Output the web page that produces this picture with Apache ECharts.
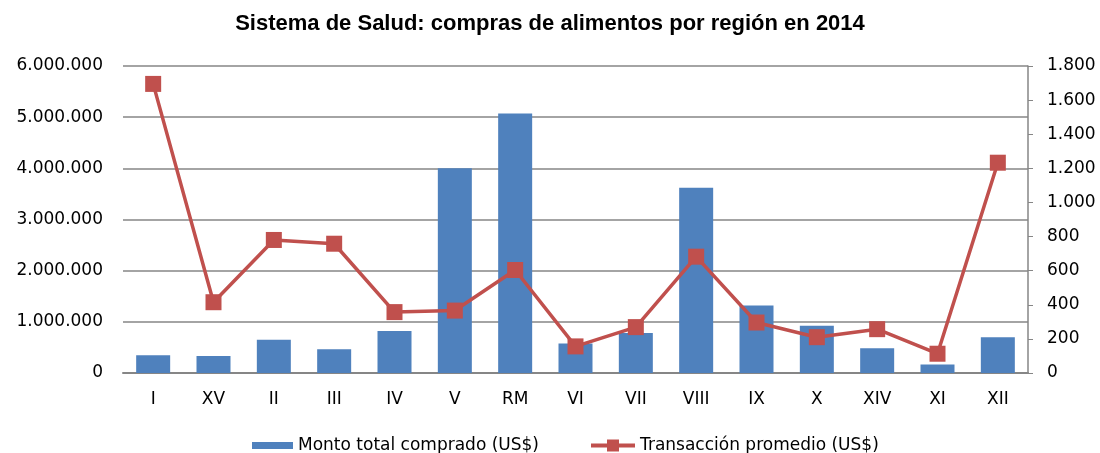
<!DOCTYPE html>
<html>
<head>
<meta charset="utf-8">
<script src="https://cdn.jsdelivr.net/npm/echarts@6/dist/echarts.min.js"></script>
<style>
  html, body { margin: 0; padding: 0; background: #fff; }
  #chart { width: 1100px; height: 453px; }
</style>
</head>
<body>
<div id="chart"></div>
<script>
const REGIONS = ["I", "XV", "II", "III", "IV", "V", "RM", "VI", "VII", "VIII", "IX", "X", "XIV", "XI", "XII"];
const MONTO_TOTAL = [345000, 330000, 652000, 463000, 820000, 4000000, 5070000, 575000, 780000, 3620000, 1320000, 925000, 483000, 164000, 700000];
const TRANSACCION_PROMEDIO = [1695, 415, 780, 758, 357, 366, 604, 156, 269, 682, 296, 210, 257, 113, 1233];

const BLUE = "#4F81BD";
const RED = "#C0504D";
const FONT = "DejaVu Sans";

const fmtDots = (v) => String(v).replace(/\B(?=(\d{3})+(?!\d))/g, ".");

const chart = echarts.init(document.getElementById("chart"));

const legendText = { fontFamily: FONT, fontSize: 17, color: "#000" };

chart.setOption({
  animation: false,
  textStyle: { fontFamily: FONT },
  title: {
    text: "Sistema de Salud: compras de alimentos por región en 2014",
    left: "center",
    top: 8,
    textStyle: { fontFamily: "Liberation Sans", fontSize: 22, fontWeight: "bold", color: "#000" },
  },
  grid: { left: 123, right: 72, top: 66, bottom: 80 },
  legend: [
    {
      left: 247,
      top: 432,
      itemWidth: 41,
      itemHeight: 7,
      textStyle: legendText,
      data: [{ name: "Monto total comprado (US$)", icon: "rect" }],
    },
    {
      left: 584,
      top: 432,
      itemWidth: 44,
      itemHeight: 15,
      textStyle: legendText,
      data: [{ name: "Transacción promedio (US$)", lineStyle: { width: 4 } }],
    },
  ],
  xAxis: {
    type: "category",
    data: REGIONS,
    axisLine: { lineStyle: { color: "#868686", width: 2 } },
    axisTick: { show: false },
    axisLabel: { color: "#000", fontSize: 17, margin: 18 },
  },
  yAxis: [
    {
      type: "value",
      min: 0,
      max: 6000000,
      interval: 1000000,
      axisLine: { show: false },
      axisTick: { show: false },
      splitLine: { lineStyle: { color: "#868686", width: 1.5 } },
      axisLabel: { color: "#000", fontSize: 17, margin: 20, formatter: fmtDots },
    },
    {
      type: "value",
      min: 0,
      max: 1800,
      interval: 200,
      position: "right",
      splitLine: { show: false },
      axisLine: { show: true, lineStyle: { color: "#868686", width: 1.5 } },
      axisTick: { show: true, length: 5, lineStyle: { color: "#868686" } },
      axisLabel: { color: "#000", fontSize: 17, margin: 19, formatter: fmtDots },
    },
  ],
  series: [
    {
      name: "Monto total comprado (US$)",
      type: "bar",
      yAxisIndex: 0,
      barWidth: 34,
      itemStyle: { color: BLUE },
      data: MONTO_TOTAL,
    },
    {
      name: "Transacción promedio (US$)",
      type: "line",
      yAxisIndex: 1,
      symbol: "rect",
      symbolSize: 16,
      lineStyle: { color: RED, width: 3.5 },
      itemStyle: { color: RED },
      data: TRANSACCION_PROMEDIO,
    },
  ],
});
</script>
</body>
</html>
